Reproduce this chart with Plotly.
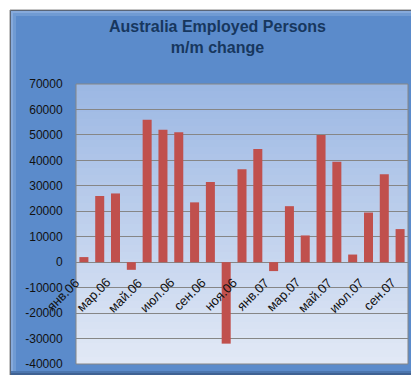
import plotly.graph_objects as go

categories = ["янв.06", "фев.06", "мар.06", "апр.06", "май.06", "июн.06", "июл.06",
              "авг.06", "сен.06", "окт.06", "ноя.06", "дек.06", "янв.07", "фев.07",
              "мар.07", "апр.07", "май.07", "июн.07", "июл.07", "авг.07", "сен.07"]
values = [2000, 26000, 27000, -3000, 56000, 52000, 51000, 23500, 31500, -32000, 36500,
          44500, -3500, 22000, 10500, 50000, 39500, 3000, 19500, 34500, 13000]
y_ticks = [-40000, -30000, -20000, -10000, 0, 10000, 20000, 30000, 40000, 50000, 60000, 70000]
y_tick_labels = [str(v) for v in y_ticks]
x_tick_labels = categories[::2]

W, H = 419, 375
ML, MR, MT, MB = 68, 19, 76, 19
PW, PH = W - ML - MR, H - MT - MB


def px(x):
    return (x - ML) / PW


def py(y):
    return (H - MB - y) / PH


shapes = []


def frame_rect(x0, y0, x1, y1, fill, line=None):
    shapes.append(dict(type="rect", xref="paper", yref="paper", layer="below",
                       x0=px(x0), x1=px(x1), y0=py(y1), y1=py(y0),
                       fillcolor=fill,
                       line=dict(width=1 if line else 0, color=line or "rgba(0,0,0,0)")))


# outer frame with bevel
frame_rect(2, 2, 416, 372, "#2A4266", "#8A8A8A")
frame_rect(3, 3, 414, 370, "#33507A")
frame_rect(3, 3, 411, 367, "#3F6293")
frame_rect(3, 3, 409, 365, "#4C76AE")
frame_rect(3, 3, 407, 363, "#86AADC")
frame_rect(5, 5, 407, 363, "#709BD3")
frame_rect(8, 8, 407, 363, "#5B8BCB")

# plot area gradient
n = 40
top = (0x9B, 0xB7, 0xE3)
bot = (0xE2, 0xE9, 0xF6)
for i in range(n):
    t = (i + 0.5) / n
    c = tuple(round(top[k] + (bot[k] - top[k]) * t) for k in range(3))
    shapes.append(dict(type="rect", xref="x domain", yref="y domain", layer="below",
                       x0=0, x1=1, y0=1 - (i + 1) / n, y1=1 - i / n,
                       fillcolor="rgb(%d,%d,%d)" % c, line=dict(width=0)))
# plot border
shapes.append(dict(type="rect", xref="x domain", yref="y domain", layer="above",
                   x0=0, x1=1, y0=0, y1=1, line=dict(color="#868686", width=1)))

fig = go.Figure(go.Bar(x=categories, y=values, marker=dict(color="#C0504D", line=dict(width=0))))

# category labels sitting under the zero line
annotations = [dict(x=lab, y=0, xref="x", yref="y", text=lab, textangle=-45,
                    showarrow=False, xanchor="right", yanchor="top",
                    xshift=1, yshift=-10,
                    font=dict(family="Liberation Sans", size=13, color="#111111"))
               for lab in x_tick_labels]

fig.update_layout(
    width=W, height=H,
    margin=dict(l=ML, r=MR, t=MT, b=MB),
    paper_bgcolor="white",
    plot_bgcolor="rgba(0,0,0,0)",
    bargap=0.43,
    showlegend=False,
    shapes=shapes,
    annotations=annotations,
    title=dict(text="Australia Employed Persons<br>m/m change", x=0.5, xref="container",
               xanchor="center", y=0.935, yanchor="middle",
               font=dict(family="Liberation Sans", size=16, color="#17375E", weight="bold")),
    font=dict(family="Liberation Sans", size=12, color="#111111"),
    xaxis=dict(categoryorder="array", categoryarray=categories,
               range=[-0.5, len(categories) - 0.5], autorange=False,
               showticklabels=False, showgrid=False,
               showline=False, ticks="", zeroline=False, fixedrange=True),
    yaxis=dict(range=[y_ticks[0], y_ticks[-1]], autorange=False, tickmode="array",
               tickvals=y_ticks, ticktext=y_tick_labels, showgrid=True,
               gridcolor="#868686", gridwidth=1, zeroline=True, zerolinecolor="#868686",
               zerolinewidth=1, ticks="outside", ticklen=10, tickcolor="rgba(0,0,0,0)",
               showline=False),
)

fig.write_html("out.html")
